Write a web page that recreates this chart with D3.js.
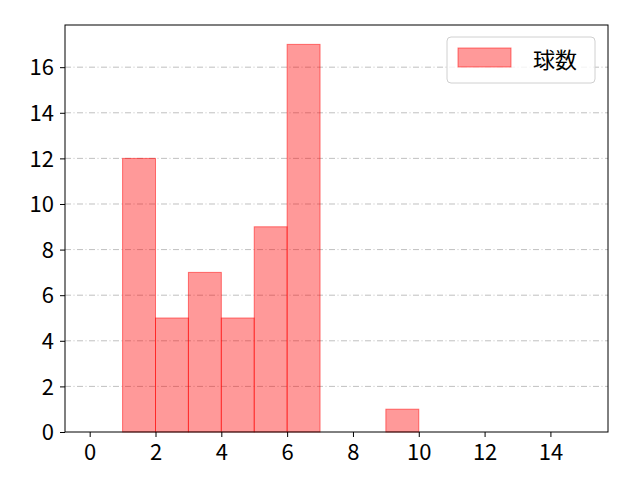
<!DOCTYPE html>
<html>
<head>
<meta charset="utf-8">
<script src="https://cdn.jsdelivr.net/npm/d3@7"></script>
<style>
  body { margin: 0; background: #fff; }
  text { font-family: "Noto Sans CJK JP", sans-serif; }
</style>
</head>
<body>
<div id="chart"></div>
<script>
const binStarts = [1, 2, 3, 4, 5, 6, 9];
const binCounts = [12, 5, 7, 5, 9, 17, 1];
const xTicks = [0, 2, 4, 6, 8, 10, 12, 14];
const yTicks = [0, 2, 4, 6, 8, 10, 12, 14, 16];
const seriesName = "球数";

const width = 640, height = 480,
    margin = {top: 25, right: 32, bottom: 48, left: 65};

const x = d3.scaleLinear().domain([-0.75, 15.75]).
        range([margin.left, width - margin.right]),
    y = d3.scaleLinear().domain([0, 17.85]).
        range([height - margin.bottom, margin.top]);

const svg = d3.select("#chart").append("svg").
    attr("width", width).
    attr("height", height);

// grid
svg.append("g").
    selectAll("line").
    data(yTicks.filter((d) => d > 0)).
    enter().
    append("line").
    attr("x1", margin.left).
    attr("x2", width - margin.right).
    attr("y1", (d) => y(d)).
    attr("y2", (d) => y(d)).
    attr("stroke", "#b0b0b0").
    attr("stroke-width", 0.8).
    attr("stroke-dasharray", "6,2.5,1,2.5");

// bars
svg.append("g").
    selectAll("rect").
    data(binStarts.map((s, i) => ({s, c: binCounts[i]}))).
    enter().
    append("rect").
    attr("x", (d) => x(d.s)).
    attr("width", (d) => x(d.s + 1) - x(d.s)).
    attr("y", (d) => y(d.c)).
    attr("height", (d) => y(0) - y(d.c)).
    attr("fill", "rgba(255,0,0,0.4)").
    attr("stroke", "rgba(255,0,0,0.5)").
    attr("stroke-width", 1);

// axes
const xAxis = svg.append("g").
    attr("transform", `translate(0,${height - margin.bottom})`).
    call(d3.axisBottom(x).tickValues(xTicks).tickSize(5).tickPadding(4).tickFormat(d3.format("d")));
const yAxis = svg.append("g").
    attr("transform", `translate(${margin.left},0)`).
    call(d3.axisLeft(y).tickValues(yTicks).tickSize(5).tickPadding(6).tickFormat(d3.format("d")));

[xAxis, yAxis].forEach((a) => {
    a.select(".domain").remove();
    a.selectAll("text").attr("font-size", 22).attr("fill", "#000").
        style("font-family", "\"Noto Sans CJK JP\", sans-serif");
    a.selectAll("line").attr("stroke", "#000").attr("stroke-width", 1);
});
xAxis.selectAll("text").attr("dy", "0.85em");
yAxis.selectAll("text").attr("dy", "0.35em");

// frame
svg.append("rect").
    attr("x", margin.left).
    attr("y", margin.top).
    attr("width", width - margin.left - margin.right).
    attr("height", height - margin.top - margin.bottom).
    attr("fill", "none").
    attr("stroke", "#000").
    attr("stroke-width", 1);

// legend
const lg = svg.append("g").attr("transform", "translate(447,37)");
lg.append("rect").
    attr("width", 148).
    attr("height", 46).
    attr("rx", 4).
    attr("fill", "rgba(255,255,255,0.8)").
    attr("stroke", "#d0d0d0");
lg.append("rect").
    attr("x", 11).
    attr("y", 11).
    attr("width", 53).
    attr("height", 19).
    attr("fill", "rgba(255,0,0,0.4)").
    attr("stroke", "rgba(255,0,0,0.5)");
lg.append("text").
    attr("x", 86).
    attr("y", 31).
    attr("font-size", 22).
    style("font-family", "\"Noto Sans CJK JP\", sans-serif").
    text(seriesName);
</script>
</body>
</html>
